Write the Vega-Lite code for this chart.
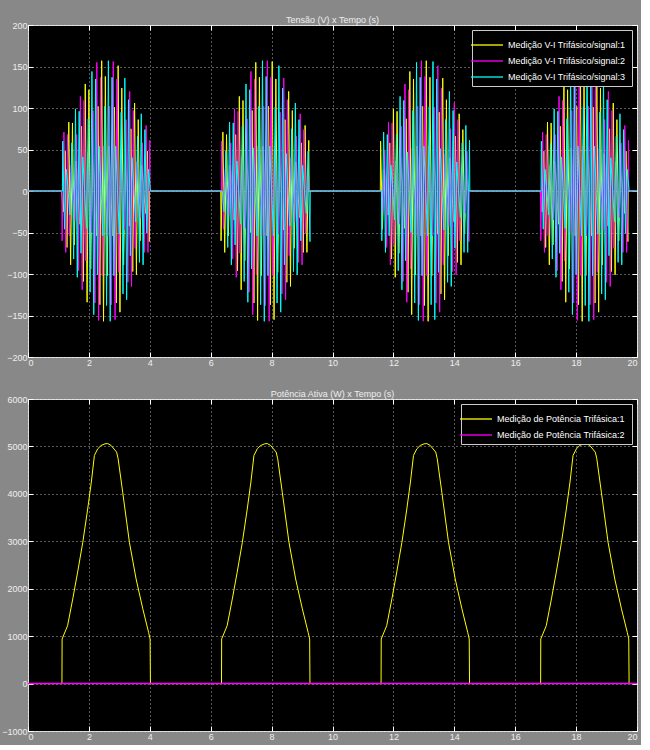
{
  "$schema": "https://vega.github.io/schema/vega-lite/v6.json",
  "background": "#888888",
  "padding": {"left": 1, "top": 15, "right": 3, "bottom": 3},
  "spacing": 21,
  "config": {
    "font": "Liberation Sans",
    "view": {"fill": "#000000", "stroke": "#d8d8d8", "strokeWidth": 1},
    "axis": {"domain": false, "grid": true, "gridColor": "#ffffff", "gridDash": [1, 3], "gridOpacity": 0.7, "tickColor": "#ffffff", "tickSize": -5, "labelPadding": 6, "labelColor": "#eeeeee", "labelFontSize": 9},
    "title": {"fontSize": 9, "color": "#eeeeee", "fontWeight": "normal", "offset": -4},
    "legend": {"orient": "top-right", "offset": 5, "fillColor": "#000000", "strokeColor": "#cccccc", "padding": 4, "labelColor": "#ffffff", "labelFontSize": 9, "symbolType": "M-1.6,0L1.6,0", "symbolSize": 400, "symbolStrokeWidth": 1.3, "rowPadding": 0, "labelLimit": 300, "labelOffset": 10}
  },
  "resolve": {"scale": {"x": "independent", "y": "independent", "color": "independent"}},
  "datasets": {
    "volt": [
      {"t":0,"a":0,"b":0,"c":0},
      {"t":1.11,"a":0,"b":0,"c":0},
      {"t":1.12,"a":0,"b":-60,"c":60},
      {"t":1.18,"a":-25,"b":71,"c":-46},
      {"t":1.24,"a":48,"b":-74,"c":26},
      {"t":1.30,"a":-68,"b":68,"c":0},
      {"t":1.36,"a":83,"b":-54,"c":-29},
      {"t":1.42,"a":-89,"b":31,"c":58},
      {"t":1.48,"a":82,"b":0,"c":-82},
      {"t":1.54,"a":-65,"b":-35,"c":99},
      {"t":1.60,"a":36,"b":68,"c":-104},
      {"t":1.66,"a":0,"b":-96,"c":96},
      {"t":1.72,"a":-40,"b":114,"c":-75},
      {"t":1.78,"a":78,"b":-119,"c":41},
      {"t":1.84,"a":-109,"b":109,"c":0},
      {"t":1.90,"a":129,"b":-84,"c":-45},
      {"t":1.96,"a":-134,"b":47,"c":87},
      {"t":2.02,"a":122,"b":0,"c":-122},
      {"t":2.08,"a":-94,"b":-50,"c":144},
      {"t":2.14,"a":52,"b":97,"c":-149},
      {"t":2.20,"a":0,"b":-135,"c":135},
      {"t":2.26,"a":-54,"b":155,"c":-101},
      {"t":2.32,"a":102,"b":-156,"c":54},
      {"t":2.38,"a":-137,"b":137,"c":0},
      {"t":2.44,"a":157,"b":-102,"c":-54},
      {"t":2.50,"a":-157,"b":54,"c":102},
      {"t":2.56,"a":138,"b":0,"c":-138},
      {"t":2.62,"a":-102,"b":-54,"c":157},
      {"t":2.68,"a":54,"b":102,"c":-157},
      {"t":2.74,"a":0,"b":-137,"c":137},
      {"t":2.80,"a":-54,"b":156,"c":-102},
      {"t":2.86,"a":101,"b":-155,"c":54},
      {"t":2.92,"a":-135,"b":135,"c":0},
      {"t":2.98,"a":151,"b":-98,"c":-52},
      {"t":3.04,"a":-146,"b":51,"c":95},
      {"t":3.10,"a":124,"b":0,"c":-124},
      {"t":3.16,"a":-89,"b":-47,"c":136},
      {"t":3.22,"a":45,"b":86,"c":-131},
      {"t":3.28,"a":0,"b":-110,"c":110},
      {"t":3.34,"a":-42,"b":120,"c":-78},
      {"t":3.40,"a":75,"b":-115,"c":40},
      {"t":3.46,"a":-97,"b":97,"c":0},
      {"t":3.52,"a":106,"b":-69,"c":-37},
      {"t":3.58,"a":-101,"b":35,"c":66},
      {"t":3.64,"a":86,"b":0,"c":-86},
      {"t":3.70,"a":-60,"b":-32,"c":93},
      {"t":3.76,"a":31,"b":58,"c":-89},
      {"t":3.82,"a":0,"b":-74,"c":74},
      {"t":3.88,"a":-27,"b":79,"c":-51},
      {"t":3.94,"a":48,"b":-74,"c":26},
      {"t":4.00,"a":-61,"b":61,"c":0},
      {"t":4.01,"a":0,"b":0,"c":0},
      {"t":6.35,"a":0,"b":0,"c":0},
      {"t":6.36,"a":-60,"b":60,"c":0},
      {"t":6.42,"a":71,"b":-46,"c":-25},
      {"t":6.48,"a":-74,"b":26,"c":48},
      {"t":6.54,"a":68,"b":0,"c":-68},
      {"t":6.60,"a":-54,"b":-29,"c":83},
      {"t":6.66,"a":31,"b":58,"c":-89},
      {"t":6.72,"a":0,"b":-82,"c":82},
      {"t":6.78,"a":-35,"b":99,"c":-65},
      {"t":6.84,"a":68,"b":-104,"c":36},
      {"t":6.90,"a":-96,"b":96,"c":0},
      {"t":6.96,"a":114,"b":-75,"c":-40},
      {"t":7.02,"a":-119,"b":41,"c":78},
      {"t":7.08,"a":109,"b":0,"c":-109},
      {"t":7.14,"a":-84,"b":-45,"c":129},
      {"t":7.20,"a":47,"b":87,"c":-134},
      {"t":7.26,"a":0,"b":-122,"c":122},
      {"t":7.32,"a":-50,"b":144,"c":-94},
      {"t":7.38,"a":97,"b":-149,"c":52},
      {"t":7.44,"a":-135,"b":135,"c":0},
      {"t":7.50,"a":155,"b":-101,"c":-54},
      {"t":7.56,"a":-156,"b":54,"c":102},
      {"t":7.62,"a":137,"b":0,"c":-137},
      {"t":7.68,"a":-102,"b":-54,"c":157},
      {"t":7.74,"a":54,"b":102,"c":-157},
      {"t":7.80,"a":0,"b":-138,"c":138},
      {"t":7.86,"a":-54,"b":157,"c":-102},
      {"t":7.92,"a":102,"b":-157,"c":54},
      {"t":7.98,"a":-137,"b":137,"c":0},
      {"t":8.04,"a":156,"b":-102,"c":-54},
      {"t":8.10,"a":-155,"b":54,"c":101},
      {"t":8.16,"a":135,"b":0,"c":-135},
      {"t":8.22,"a":-98,"b":-52,"c":151},
      {"t":8.28,"a":51,"b":95,"c":-146},
      {"t":8.34,"a":0,"b":-124,"c":124},
      {"t":8.40,"a":-47,"b":136,"c":-89},
      {"t":8.46,"a":86,"b":-131,"c":45},
      {"t":8.52,"a":-110,"b":110,"c":0},
      {"t":8.58,"a":120,"b":-78,"c":-42},
      {"t":8.64,"a":-115,"b":40,"c":75},
      {"t":8.70,"a":97,"b":0,"c":-97},
      {"t":8.76,"a":-69,"b":-37,"c":106},
      {"t":8.82,"a":35,"b":66,"c":-101},
      {"t":8.88,"a":0,"b":-86,"c":86},
      {"t":8.94,"a":-32,"b":93,"c":-60},
      {"t":9.00,"a":58,"b":-89,"c":31},
      {"t":9.06,"a":-74,"b":74,"c":0},
      {"t":9.12,"a":79,"b":-51,"c":-27},
      {"t":9.18,"a":-74,"b":26,"c":48},
      {"t":9.24,"a":61,"b":0,"c":-61},
      {"t":9.25,"a":0,"b":0,"c":0},
      {"t":11.59,"a":0,"b":0,"c":0},
      {"t":11.60,"a":60,"b":0,"c":-60},
      {"t":11.66,"a":-46,"b":-25,"c":71},
      {"t":11.72,"a":26,"b":48,"c":-74},
      {"t":11.78,"a":0,"b":-68,"c":68},
      {"t":11.84,"a":-29,"b":83,"c":-54},
      {"t":11.90,"a":58,"b":-89,"c":31},
      {"t":11.96,"a":-82,"b":82,"c":0},
      {"t":12.02,"a":99,"b":-65,"c":-35},
      {"t":12.08,"a":-104,"b":36,"c":68},
      {"t":12.14,"a":96,"b":0,"c":-96},
      {"t":12.20,"a":-75,"b":-40,"c":114},
      {"t":12.26,"a":41,"b":78,"c":-119},
      {"t":12.32,"a":0,"b":-109,"c":109},
      {"t":12.38,"a":-45,"b":129,"c":-84},
      {"t":12.44,"a":87,"b":-134,"c":47},
      {"t":12.50,"a":-122,"b":122,"c":0},
      {"t":12.56,"a":144,"b":-94,"c":-50},
      {"t":12.62,"a":-149,"b":52,"c":97},
      {"t":12.68,"a":135,"b":0,"c":-135},
      {"t":12.74,"a":-101,"b":-54,"c":155},
      {"t":12.80,"a":54,"b":102,"c":-156},
      {"t":12.86,"a":0,"b":-137,"c":137},
      {"t":12.92,"a":-54,"b":157,"c":-102},
      {"t":12.98,"a":102,"b":-157,"c":54},
      {"t":13.04,"a":-138,"b":138,"c":0},
      {"t":13.10,"a":157,"b":-102,"c":-54},
      {"t":13.16,"a":-157,"b":54,"c":102},
      {"t":13.22,"a":137,"b":0,"c":-137},
      {"t":13.28,"a":-102,"b":-54,"c":156},
      {"t":13.34,"a":54,"b":101,"c":-155},
      {"t":13.40,"a":0,"b":-135,"c":135},
      {"t":13.46,"a":-52,"b":151,"c":-98},
      {"t":13.52,"a":95,"b":-146,"c":51},
      {"t":13.58,"a":-124,"b":124,"c":0},
      {"t":13.64,"a":136,"b":-89,"c":-47},
      {"t":13.70,"a":-131,"b":45,"c":86},
      {"t":13.76,"a":110,"b":0,"c":-110},
      {"t":13.82,"a":-78,"b":-42,"c":120},
      {"t":13.88,"a":40,"b":75,"c":-115},
      {"t":13.94,"a":0,"b":-97,"c":97},
      {"t":14.00,"a":-37,"b":106,"c":-69},
      {"t":14.06,"a":66,"b":-101,"c":35},
      {"t":14.12,"a":-86,"b":86,"c":0},
      {"t":14.18,"a":93,"b":-60,"c":-32},
      {"t":14.24,"a":-89,"b":31,"c":58},
      {"t":14.30,"a":74,"b":0,"c":-74},
      {"t":14.36,"a":-51,"b":-27,"c":79},
      {"t":14.42,"a":26,"b":48,"c":-74},
      {"t":14.48,"a":0,"b":-61,"c":61},
      {"t":14.49,"a":0,"b":0,"c":0},
      {"t":16.83,"a":0,"b":0,"c":0},
      {"t":16.84,"a":0,"b":-60,"c":60},
      {"t":16.90,"a":-25,"b":71,"c":-46},
      {"t":16.96,"a":48,"b":-74,"c":26},
      {"t":17.02,"a":-68,"b":68,"c":0},
      {"t":17.08,"a":83,"b":-54,"c":-29},
      {"t":17.14,"a":-89,"b":31,"c":58},
      {"t":17.20,"a":82,"b":0,"c":-82},
      {"t":17.26,"a":-65,"b":-35,"c":99},
      {"t":17.32,"a":36,"b":68,"c":-104},
      {"t":17.38,"a":0,"b":-96,"c":96},
      {"t":17.44,"a":-40,"b":114,"c":-75},
      {"t":17.50,"a":78,"b":-119,"c":41},
      {"t":17.56,"a":-109,"b":109,"c":0},
      {"t":17.62,"a":129,"b":-84,"c":-45},
      {"t":17.68,"a":-134,"b":47,"c":87},
      {"t":17.74,"a":122,"b":0,"c":-122},
      {"t":17.80,"a":-94,"b":-50,"c":144},
      {"t":17.86,"a":52,"b":97,"c":-149},
      {"t":17.92,"a":0,"b":-135,"c":135},
      {"t":17.98,"a":-54,"b":155,"c":-101},
      {"t":18.04,"a":102,"b":-156,"c":54},
      {"t":18.10,"a":-137,"b":137,"c":0},
      {"t":18.16,"a":157,"b":-102,"c":-54},
      {"t":18.22,"a":-157,"b":54,"c":102},
      {"t":18.28,"a":138,"b":0,"c":-138},
      {"t":18.34,"a":-102,"b":-54,"c":157},
      {"t":18.40,"a":54,"b":102,"c":-157},
      {"t":18.46,"a":0,"b":-137,"c":137},
      {"t":18.52,"a":-54,"b":156,"c":-102},
      {"t":18.58,"a":101,"b":-155,"c":54},
      {"t":18.64,"a":-135,"b":135,"c":0},
      {"t":18.70,"a":151,"b":-98,"c":-52},
      {"t":18.76,"a":-146,"b":51,"c":95},
      {"t":18.82,"a":124,"b":0,"c":-124},
      {"t":18.88,"a":-89,"b":-47,"c":136},
      {"t":18.94,"a":45,"b":86,"c":-131},
      {"t":19.00,"a":0,"b":-110,"c":110},
      {"t":19.06,"a":-42,"b":120,"c":-78},
      {"t":19.12,"a":75,"b":-115,"c":40},
      {"t":19.18,"a":-97,"b":97,"c":0},
      {"t":19.24,"a":106,"b":-69,"c":-37},
      {"t":19.30,"a":-101,"b":35,"c":66},
      {"t":19.36,"a":86,"b":0,"c":-86},
      {"t":19.42,"a":-60,"b":-32,"c":93},
      {"t":19.48,"a":31,"b":58,"c":-89},
      {"t":19.54,"a":0,"b":-74,"c":74},
      {"t":19.60,"a":-27,"b":79,"c":-51},
      {"t":19.66,"a":48,"b":-74,"c":26},
      {"t":19.72,"a":-61,"b":61,"c":0},
      {"t":19.73,"a":0,"b":0,"c":0},
      {"t":20,"a":0,"b":0,"c":0}
    ],
    "pow": [
      {"t":0,"p":0},
      {"t":1.115,"p":0},{"t":1.12,"p":940},{"t":1.30,"p":1220},{"t":1.47,"p":1785},{"t":1.63,"p":2350},{"t":1.80,"p":2980},{"t":1.96,"p":3680},{"t":2.08,"p":4250},{"t":2.18,"p":4810},{"t":2.29,"p":4950},{"t":2.40,"p":5020},{"t":2.53,"p":5055},{"t":2.62,"p":5060},{"t":2.73,"p":5020},{"t":2.91,"p":4880},{"t":2.96,"p":4740},{"t":3.11,"p":4035},{"t":3.33,"p":2980},{"t":3.55,"p":2205},{"t":3.77,"p":1575},{"t":3.96,"p":1080},{"t":4.01,"p":940},{"t":4.02,"p":0},
      {"t":6.355,"p":0},{"t":6.36,"p":940},{"t":6.54,"p":1220},{"t":6.71,"p":1785},{"t":6.87,"p":2350},{"t":7.04,"p":2980},{"t":7.20,"p":3680},{"t":7.32,"p":4250},{"t":7.42,"p":4810},{"t":7.53,"p":4950},{"t":7.64,"p":5020},{"t":7.77,"p":5055},{"t":7.86,"p":5060},{"t":7.97,"p":5020},{"t":8.15,"p":4880},{"t":8.20,"p":4740},{"t":8.35,"p":4035},{"t":8.57,"p":2980},{"t":8.79,"p":2205},{"t":9.01,"p":1575},{"t":9.20,"p":1080},{"t":9.25,"p":940},{"t":9.26,"p":0},
      {"t":11.595,"p":0},{"t":11.60,"p":940},{"t":11.78,"p":1220},{"t":11.95,"p":1785},{"t":12.11,"p":2350},{"t":12.28,"p":2980},{"t":12.44,"p":3680},{"t":12.56,"p":4250},{"t":12.66,"p":4810},{"t":12.77,"p":4950},{"t":12.88,"p":5020},{"t":13.01,"p":5055},{"t":13.10,"p":5060},{"t":13.21,"p":5020},{"t":13.39,"p":4880},{"t":13.44,"p":4740},{"t":13.59,"p":4035},{"t":13.81,"p":2980},{"t":14.03,"p":2205},{"t":14.25,"p":1575},{"t":14.44,"p":1080},{"t":14.49,"p":940},{"t":14.50,"p":0},
      {"t":16.835,"p":0},{"t":16.84,"p":940},{"t":17.02,"p":1220},{"t":17.19,"p":1785},{"t":17.35,"p":2350},{"t":17.52,"p":2980},{"t":17.68,"p":3680},{"t":17.80,"p":4250},{"t":17.90,"p":4810},{"t":18.01,"p":4950},{"t":18.12,"p":5020},{"t":18.25,"p":5055},{"t":18.34,"p":5060},{"t":18.45,"p":5020},{"t":18.63,"p":4880},{"t":18.68,"p":4740},{"t":18.83,"p":4035},{"t":19.05,"p":2980},{"t":19.27,"p":2205},{"t":19.49,"p":1575},{"t":19.68,"p":1080},{"t":19.73,"p":940},{"t":19.74,"p":0},
      {"t":20,"p":0}
    ],
    "pzero": [{"t":0,"q":0},{"t":20,"q":0}]
  },
  "vconcat": [
    {
      "width": 609,
      "height": 332,
      "title": {"text": "Tensão (V) x Tempo (s)"},
      "data": {"name": "volt"},
      "resolve": {"axis": {"x": "independent", "y": "independent"}},
      "layer": [
        {
          "mark": {"type": "line", "strokeWidth": 1, "xOffset": -0.6, "clip": true},
          "encoding": {
            "x": {"field": "t", "type": "quantitative", "scale": {"domain": [0, 20], "nice": false}, "axis": {"title": null, "values": [0,2,4,6,8,10,12,14,16,18,20]}},
            "y": {"field": "a", "type": "quantitative", "scale": {"domain": [-200, 200], "nice": false}, "axis": {"title": null, "format": "d", "values": [-200,-150,-100,-50,0,50,100,150,200]}},
            "color": {"datum": "Medição V-I  Trifásico/signal:1", "type": "nominal",
              "scale": {"domain": ["Medição V-I  Trifásico/signal:1", "Medição V-I  Trifásico/signal:2", "Medição V-I  Trifásico/signal:3"], "range": ["#ffff00", "#ff00ff", "#00ffff"]},
              "legend": {"title": null}}
          }
        },
        {
          "mark": {"type": "line", "strokeWidth": 1, "clip": true},
          "encoding": {
            "x": {"field": "t", "type": "quantitative", "axis": null},
            "y": {"field": "b", "type": "quantitative", "axis": null},
            "color": {"datum": "Medição V-I  Trifásico/signal:2", "type": "nominal"}
          }
        },
        {
          "mark": {"type": "line", "strokeWidth": 1, "xOffset": 0.6, "clip": true},
          "encoding": {
            "x": {"field": "t", "type": "quantitative", "axis": {"orient": "top", "title": null, "labels": false, "grid": false, "labelPadding": 0, "values": [0,2,4,6,8,10,12,14,16,18,20]}},
            "y": {"field": "c", "type": "quantitative", "axis": {"orient": "right", "title": null, "labels": false, "grid": false, "labelPadding": 0, "values": [-200,-150,-100,-50,0,50,100,150,200]}},
            "color": {"datum": "Medição V-I  Trifásico/signal:3", "type": "nominal"}
          }
        }
      ]
    },
    {
      "width": 609,
      "height": 332,
      "title": {"text": "Potência Ativa (W) x Tempo (s)"},
      "resolve": {"axis": {"x": "independent", "y": "independent"}},
      "layer": [
        {
          "data": {"name": "pow"},
          "mark": {"type": "line", "strokeWidth": 1, "clip": true},
          "encoding": {
            "x": {"field": "t", "type": "quantitative", "scale": {"domain": [0, 20], "nice": false}, "axis": {"title": null, "values": [0,2,4,6,8,10,12,14,16,18,20]}},
            "y": {"field": "p", "type": "quantitative", "scale": {"domain": [-1000, 6000], "nice": false}, "axis": {"title": null, "format": "d", "values": [-1000,0,1000,2000,3000,4000,5000,6000]}},
            "color": {"datum": "Medição de  Potência Trifásica:1", "type": "nominal",
              "scale": {"domain": ["Medição de  Potência Trifásica:1", "Medição de  Potência Trifásica:2"], "range": ["#ffff00", "#ff00ff"]},
              "legend": {"title": null}}
          }
        },
        {
          "data": {"name": "pzero"},
          "mark": {"type": "line", "strokeWidth": 1.5, "clip": true},
          "encoding": {
            "x": {"field": "t", "type": "quantitative", "axis": {"orient": "top", "title": null, "labels": false, "grid": false, "labelPadding": 0, "values": [0,2,4,6,8,10,12,14,16,18,20]}},
            "y": {"field": "q", "type": "quantitative", "axis": {"orient": "right", "title": null, "labels": false, "grid": false, "labelPadding": 0, "values": [-1000,0,1000,2000,3000,4000,5000,6000]}},
            "color": {"datum": "Medição de  Potência Trifásica:2", "type": "nominal"}
          }
        }
      ]
    }
  ]
}
